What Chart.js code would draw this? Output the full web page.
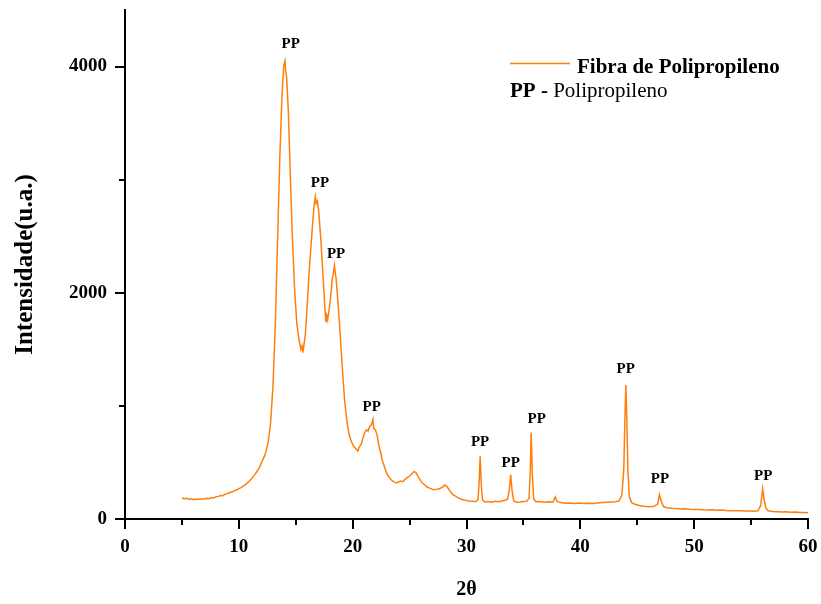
<!DOCTYPE html>
<html>
<head>
<meta charset="utf-8">
<script src="https://cdn.jsdelivr.net/npm/chart.js@4.4.1/dist/chart.umd.min.js"></script>
<style>
    html, body { margin: 0; padding: 0; background: #fff; }
    #wrap { width: 821px; height: 604px; }
</style>
</head>
<body>
<div id="wrap"><canvas id="xrdChart" width="821" height="604"></canvas></div>
<script>
const twoTheta = [
    5.0, 5.2, 5.4, 5.6, 5.8, 6.0, 6.2, 6.4, 6.6, 6.8, 7.0, 7.2, 7.4, 7.6, 7.8,
    8.0, 8.2, 8.4, 8.6, 8.8, 9.0, 9.2, 9.4, 9.6, 9.8, 10.0, 10.2, 10.4, 10.6, 10.8,
    11.0, 11.2, 11.4, 11.6, 11.8, 12.0, 12.2, 12.4, 12.6, 12.8, 13.0, 13.2, 13.4, 13.6, 13.8,
    13.95, 14.05, 14.12, 14.2, 14.35, 14.5, 14.7, 14.9, 15.1, 15.3, 15.45, 15.55, 15.62, 15.7, 15.85,
    16.0, 16.2, 16.4, 16.6, 16.72, 16.8, 16.9, 17.0, 17.2, 17.4, 17.55, 17.65, 17.72, 17.8, 17.95,
    18.1, 18.2, 18.3, 18.4, 18.48, 18.55, 18.7, 18.9, 19.1, 19.3, 19.5, 19.7, 19.9, 20.1, 20.3,
    20.45, 20.6, 20.75, 20.9, 21.05, 21.2, 21.35, 21.5, 21.65, 21.78, 21.85, 22.0, 22.15, 22.3, 22.45,
    22.6, 22.8, 23.0, 23.2, 23.4, 23.6, 23.8, 24.0, 24.2, 24.4, 24.6, 24.8, 25.0, 25.2, 25.4,
    25.55, 25.7, 25.9, 26.1, 26.3, 26.5, 26.7, 26.9, 27.1, 27.3, 27.5, 27.7, 27.9, 28.1, 28.25,
    28.4, 28.6, 28.8, 29.0, 29.3, 29.6, 29.9, 30.2, 30.5, 30.8, 31.0, 31.1, 31.2, 31.3, 31.4,
    31.6, 31.9, 32.2, 32.5, 32.8, 33.1, 33.4, 33.6, 33.75, 33.88, 34.0, 34.15, 34.4, 34.7, 35.0,
    35.3, 35.5, 35.6, 35.68, 35.78, 35.9, 36.1, 36.4, 36.8, 37.2, 37.6, 37.8, 37.95, 38.3, 38.7,
    39.1, 39.5, 39.9, 40.3, 40.7, 41.1, 41.5, 41.9, 42.3, 42.7, 43.1, 43.4, 43.65, 43.82, 43.92,
    44.0, 44.08, 44.18, 44.3, 44.5, 44.8, 45.1, 45.4, 45.8, 46.2, 46.5, 46.8, 46.95, 47.1, 47.3,
    47.6, 48.0, 48.4, 48.8, 49.2, 49.6, 50.0, 50.4, 50.8, 51.2, 51.6, 52.0, 52.4, 52.8, 53.2,
    53.6, 54.0, 54.4, 54.8, 55.2, 55.6, 55.85, 56.02, 56.15, 56.3, 56.5, 56.9, 57.3, 57.7, 58.1,
    58.5, 58.9, 59.3, 59.7, 60.0
];
const intensity = [
    188, 180, 184, 174, 178, 170, 176, 172, 178, 174, 180, 184, 180, 190, 186,
    196, 200, 208, 206, 220, 224, 234, 238, 250, 256, 268, 278, 292, 304, 324,
    342, 368, 392, 420, 455, 500, 545, 600, 690, 860, 1180, 1700, 2450, 3200, 3760,
    4010, 4050, 3960, 3900, 3600, 3100, 2500, 2030, 1720, 1580, 1500, 1530, 1470, 1520, 1640,
    1880, 2220, 2500, 2760, 2850, 2790, 2810, 2740, 2480, 2140, 1880, 1740, 1800, 1760, 1860,
    2000, 2120, 2170, 2240, 2170, 2120, 1930, 1640, 1320, 1040, 860, 740, 680, 640, 618,
    600, 640, 660, 715, 760, 790, 775, 820, 830, 880, 800, 790, 740, 650, 590,
    520, 460, 400, 370, 345, 330, 320, 325, 335, 330, 350, 365, 380, 400, 420,
    410, 385, 350, 320, 305, 285, 275, 268, 258, 262, 265, 272, 282, 300, 290,
    270, 240, 215, 205, 185, 172, 165, 160, 158, 152, 170, 300, 555, 300, 170,
    150, 155, 148, 156, 152, 160, 165, 175, 250, 392, 250, 160, 148, 150, 155,
    158, 185, 420, 765, 400, 180, 152, 155, 148, 152, 150, 195, 155, 145, 140,
    142, 138, 142, 138, 140, 138, 142, 145, 148, 150, 152, 160, 210, 450, 900,
    1185, 900, 420, 200, 145, 130, 122, 115, 110, 108, 112, 135, 215, 160, 110,
    100, 95, 92, 88, 90, 86, 84, 85, 82, 80, 81, 78, 79, 76, 74,
    73, 72, 70, 70, 68, 72, 120, 268, 170, 95, 72, 66, 64, 62, 63,
    60, 61, 58, 57, 56
];

// rótulos "PP" (posição em coordenadas de dados)
const ppX = [14.56, 17.13, 18.54, 21.67, 31.19, 33.88, 36.17, 43.99, 47.0, 56.07];
const ppY = [4199, 2968, 2343, 993, 678, 492, 881, 1326, 351, 380];

// marcas dos eixos: com rótulo e secundárias
const xTicks = [0, 10, 20, 30, 40, 50, 60];
const xMinorTicks = [5, 15, 25, 35, 45, 55];
const yTicks = [0, 2000, 4000];
const yMinorTicks = [1000, 3000];

const serif = "'Liberation Serif', 'Times New Roman', serif";
const lineColor = '#ff7f0a';

const tickMarks = {
    id: 'tickMarks',
    afterDraw(chart) {
        const { ctx, scales: { x, y } } = chart;
        ctx.save();
        ctx.strokeStyle = '#000';
        ctx.lineWidth = 2;
        x.ticks.forEach(t => {
            const px = Math.round(x.getPixelForValue(t.value));
            const len = xTicks.includes(t.value) ? 10 : 6;
            ctx.beginPath();
            ctx.moveTo(px, y.bottom);
            ctx.lineTo(px, y.bottom + len);
            ctx.stroke();
        });
        y.ticks.forEach(t => {
            const py = Math.round(y.getPixelForValue(t.value));
            const len = yTicks.includes(t.value) ? 10 : 6;
            ctx.beginPath();
            ctx.moveTo(x.left, py);
            ctx.lineTo(x.left - len, py);
            ctx.stroke();
        });
        ctx.restore();
    }
};

const peakLabels = {
    id: 'peakLabels',
    afterDatasetsDraw(chart) {
        const { ctx, scales: { x, y } } = chart;
        ctx.save();
        ctx.fillStyle = '#000';
        ctx.font = 'bold 15px ' + serif;
        ctx.textAlign = 'center';
        ctx.textBaseline = 'middle';
        ppX.forEach((v, i) => {
            ctx.fillText('PP', x.getPixelForValue(v), y.getPixelForValue(ppY[i]));
        });
        ctx.restore();
    }
};

// legenda desenhada à mão (linha + texto)
const legendBox = {
    id: 'legendBox',
    afterDraw(chart) {
        const ctx = chart.ctx;
        ctx.save();
        ctx.strokeStyle = lineColor;
        ctx.lineWidth = 1.5;
        ctx.beginPath();
        ctx.moveTo(510, 63.5);
        ctx.lineTo(570, 63.5);
        ctx.stroke();

        ctx.fillStyle = '#000';
        ctx.textBaseline = 'alphabetic';
        ctx.textAlign = 'left';
        ctx.font = 'bold 21px ' + serif;
        ctx.fillText('Fibra de Polipropileno', 577, 73);
        ctx.fillText('PP - ', 510, 97);
        const w = ctx.measureText('PP - ').width;
        ctx.font = '21px ' + serif;
        ctx.fillText('Polipropileno', 510 + w, 97);
        ctx.restore();
    }
};

// a área do gráfico fica fixa: sem o recuo automático dos rótulos
function fixBox(size, key) {
    return s => {
        s[key] = size;
        s.paddingLeft = 0;
        s.paddingRight = 0;
        s.paddingTop = 0;
        s.paddingBottom = 0;
    };
}

const ctx = document.getElementById('xrdChart').getContext('2d');
new Chart(ctx, {
    type: 'line',
    data: {
        datasets: [{
            label: 'Fibra de Polipropileno',
            data: twoTheta.map((t, i) => ({ x: t, y: intensity[i] })),
            borderColor: lineColor,
            borderWidth: 1.5,
            pointRadius: 0,
            tension: 0,
            fill: false
        }]
    },
    options: {
        responsive: false,
        animation: false,
        layout: { padding: { top: 10, right: 13, left: 0, bottom: 0 } },
        plugins: {
            legend: { display: false },
            tooltip: { enabled: false }
        },
        scales: {
            x: {
                type: 'linear',
                min: 0,
                max: 60,
                afterBuildTicks: s => {
                    s.ticks = xTicks.concat(xMinorTicks).sort((a, b) => a - b).map(v => ({ value: v }));
                },
                afterFit: fixBox(85, 'height'),
                border: { display: true, color: '#000', width: 2 },
                grid: { drawOnChartArea: false, drawTicks: false },
                ticks: {
                    autoSkip: false,
                    maxRotation: 0,
                    padding: 17,
                    color: '#000',
                    font: { family: serif, size: 19, weight: 'bold' },
                    callback: v => xTicks.includes(v) ? String(v) : ''
                },
                title: {
                    display: true,
                    text: '2θ',
                    color: '#000',
                    font: { family: serif, size: 20, weight: 'bold' },
                    padding: { top: 0, bottom: 2 }
                }
            },
            y: {
                min: 0,
                max: 4500,
                afterBuildTicks: s => {
                    s.ticks = yTicks.concat(yMinorTicks).sort((a, b) => a - b).map(v => ({ value: v }));
                },
                afterFit: fixBox(125, 'width'),
                border: { display: true, color: '#000', width: 2 },
                grid: { drawOnChartArea: false, drawTicks: false },
                ticks: {
                    autoSkip: false,
                    padding: 18,
                    color: '#000',
                    font: { family: serif, size: 19, weight: 'bold' },
                    callback: v => yTicks.includes(v) ? String(v) : ''
                },
                title: {
                    display: true,
                    text: 'Intensidade(u.a.)',
                    color: '#000',
                    font: { family: serif, size: 25, weight: 'bold' },
                    padding: { top: 11, bottom: 0 }
                }
            }
        }
    },
    plugins: [tickMarks, peakLabels, legendBox]
});
</script>
</body>
</html>
